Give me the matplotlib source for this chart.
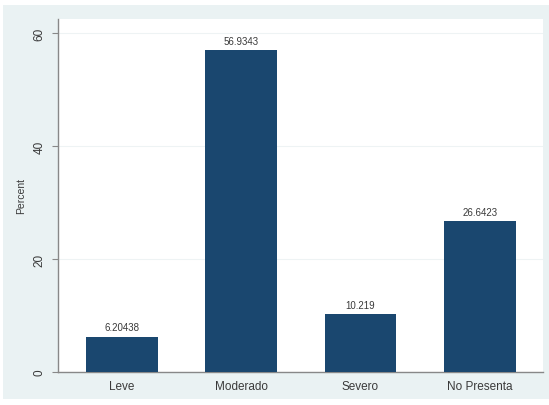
import matplotlib
matplotlib.use('Agg')
import matplotlib.pyplot as plt
from matplotlib.patches import Rectangle

plt.rcParams['font.family'] = ['Liberation Sans', 'DejaVu Sans']

categories = ['Leve', 'Moderado', 'Severo', 'No Presenta']
percent = [6.20438, 56.9343, 10.219, 26.6423]
value_labels = ['6.20438', '56.9343', '10.219', '26.6423']
y_ticks = [0, 20, 40, 60]

fig = plt.figure(figsize=(5.49, 4.06), dpi=100)
fig.patch.set_facecolor('white')
# stata-like light blue-gray backdrop
fig.patches.append(Rectangle((3 / 549, 6 / 406), 546 / 549, 394 / 406,
                             transform=fig.transFigure, facecolor='#eaf2f3',
                             edgecolor='none', zorder=-10))

ax = fig.add_axes([0.1056, 0.0813, 0.8834, 0.8697])
ax.set_facecolor('white')

x = range(len(categories))
ax.bar(x, percent, width=0.6, color='#1a476f', zorder=3)

for xi, v, lab in zip(x, percent, value_labels):
    ax.text(xi, v + 0.8, lab, ha='center', va='bottom', fontsize=7, color='#3a3a3a')

ax.set_xlim(-0.535, 3.53)
ax.set_ylim(0, 62.5)
ax.set_xticks(list(x))
ax.set_xticklabels(categories, fontsize=8.5, color='#3a3a3a')
ax.tick_params(axis='x', length=0, pad=6)
ax.set_yticks(y_ticks)
ax.set_yticklabels([str(t) for t in y_ticks], rotation=90, va='center', fontsize=8.5, color='#3a3a3a')
ax.tick_params(axis='y', length=4, color='#888888', pad=5)
ax.set_ylabel('Percent', fontsize=7.5, color='#3a3a3a', labelpad=5)

ax.grid(axis='y', color='#eef3f4', linewidth=0.8, zorder=0)
for s in ['top', 'right']:
    ax.spines[s].set_visible(False)
for s in ['left', 'bottom']:
    ax.spines[s].set_color('#888888')
    ax.spines[s].set_linewidth(1)

fig.savefig('out.png', dpi=100, facecolor=fig.get_facecolor())
